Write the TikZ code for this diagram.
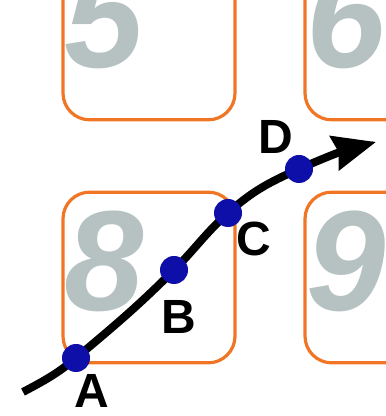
\documentclass[tikz,border=0pt]{standalone}
\usepackage{fontspec}
\setmainfont{Liberation Sans}
\usetikzlibrary{arrows.meta}
\definecolor{keyorange}{RGB}{240,118,38}
\definecolor{dotblue}{RGB}{14,14,168}
\definecolor{digitgray}{RGB}{182,194,194}
\pgfdeclarelayer{keys}
\pgfdeclarelayer{trace}
\pgfsetlayers{keys,trace,main}

\begin{document}
\begin{tikzpicture}[
        x=0.75pt, y=0.75pt,
        key/.style={draw=keyorange, line width=2.4pt, rounded corners=20pt, minimum width=129pt, minimum height=128pt},
        digit/.style={text=digitgray, anchor=base, inner sep=0pt, font=\bfseries\itshape\fontsize{107}{107}\selectfont},
        dot/.style={circle, fill=dotblue, minimum size=21pt, inner sep=0pt},
        lbl/.style={inner sep=0pt, font=\bfseries\fontsize{36}{36}\selectfont},
        edge/.style={line width=6pt, -{Stealth[length=32pt, width=26pt, inset=3pt]}}
    ]
        \useasboundingbox (0,0) rectangle (385,416);
        \clip (0,0) rectangle (385,409);

        % Keys with their digits
        \begin{pgfonlayer}{keys}
        \foreach \d/\x/\y in {5/149/381.5, 6/391/381.5, 8/149/138.5, 9/391/138.5} {
            \node[key] (k\d) at (\x,\y) {};
            \node[digit] (n\d) at ([shift={(-45,-33)}]k\d.center) {\d};
        }
        \end{pgfonlayer}

        % Points on the trace
        \node[dot] (A) at (76,58) {};
        \node[dot] (B) at (174,146) {};
        \node[dot] (C) at (228,203) {};
        \node[dot] (D) at (299,247) {};

        % Labels
        \node[lbl] (la) at ([shift={(16,-33)}]A) {A};
        \node[lbl] (lb) at ([shift={(5,-47)}]B) {B};
        \node[lbl] (lc) at ([shift={(26,-26)}]C) {C};
        \node[lbl] (ld) at ([shift={(-23,32)}]D) {D};

        % Trace
        \coordinate (s) at (23,24);
        \coordinate (t) at (376,274);
        \begin{pgfonlayer}{trace}
        \draw[edge] (s) to[out=28, in=220] (A.center) to[out=40, in=225] (B.center)
            to[out=45, in=222] (C.center) to[out=42, in=204] (D.center) to[out=24, in=195] (t);
        \end{pgfonlayer}

    \end{tikzpicture}
\end{document}
